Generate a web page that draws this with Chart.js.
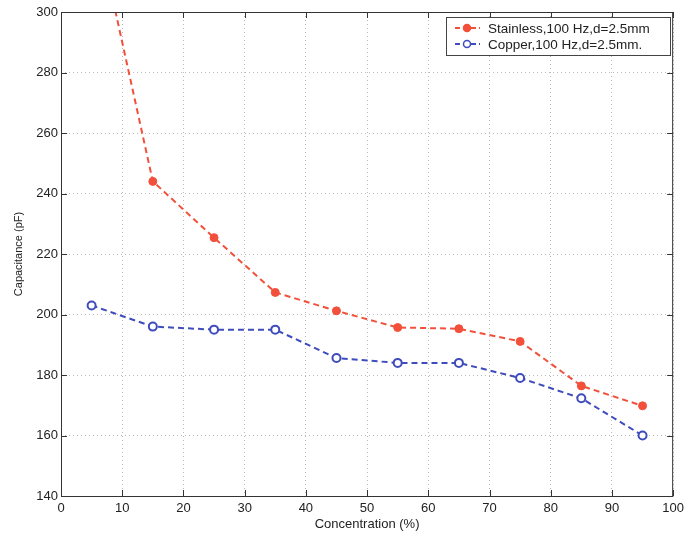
<!DOCTYPE html>
<html>
<head>
<meta charset="utf-8">
<script src="https://cdn.jsdelivr.net/npm/chart.js@4/dist/chart.umd.min.js"></script>
<style>
  html, body { margin: 0; padding: 0; background: #fff; }
  #wrap { width: 689px; height: 537px; }
</style>
</head>
<body>
<div id="wrap"><canvas id="capGraph" width="689" height="537"></canvas></div>
<script>
// concentration values (%)
const concentration = [5, 15, 25, 35, 45, 55, 65, 75, 85, 95];
// capacitance (pF)
const stainless = [336, 244, 225.4, 207.3, 201.2, 195.7, 195.3, 191.1, 176.4, 169.8];
const copper = [203, 196, 195, 195, 185.6, 184, 184, 179, 172.3, 160];
const seriesLabels = ["Stainless,100 Hz,d=2.5mm", "Copper,100 Hz,d=2.5mm."];

const FONT = "'Liberation Sans', Arial, sans-serif";
const RED = "#f2503a";
const BLUE = "#3f4cbc";

function toPoints(ys) {
    return concentration.map((x, i) => ({ x: x, y: ys[i] }));
}

// plot frame plus inward tick marks on all four sides
const framePlugin = {
    id: "frame",
    afterDraw(chart) {
        const { ctx, chartArea: a, scales } = chart;
        ctx.save();
        ctx.strokeStyle = "#333";
        ctx.lineWidth = 1;
        ctx.strokeRect(a.left + 0.5, a.top + 0.5, a.right - a.left - 1, a.bottom - a.top);
        ctx.beginPath();
        scales.x.ticks.forEach(t => {
            const px = Math.round(scales.x.getPixelForValue(t.value)) + 0.5;
            ctx.moveTo(px, a.bottom); ctx.lineTo(px, a.bottom - 6);
            ctx.moveTo(px, a.top); ctx.lineTo(px, a.top + 6);
        });
        scales.y.ticks.forEach(t => {
            const py = Math.round(scales.y.getPixelForValue(t.value)) + 0.5;
            ctx.moveTo(a.left, py); ctx.lineTo(a.left + 6, py);
            ctx.moveTo(a.right, py); ctx.lineTo(a.right - 6, py);
        });
        ctx.stroke();
        ctx.restore();
    }
};

// boxed legend in the top right corner, matlab style
const legendBoxPlugin = {
    id: "legendBox",
    afterDraw(chart) {
        const { ctx } = chart;
        const box = { x: 446, y: 17, w: 224, h: 38 };
        ctx.save();
        ctx.fillStyle = "#fff";
        ctx.fillRect(box.x, box.y, box.w, box.h);
        ctx.strokeStyle = "#444";
        ctx.lineWidth = 1;
        ctx.strokeRect(box.x + 0.5, box.y + 0.5, box.w, box.h);
        ctx.font = "13.5px " + FONT;
        ctx.textBaseline = "middle";
        chart.data.datasets.forEach((ds, i) => {
            const y = box.y + 11 + i * 16;
            ctx.strokeStyle = ds.borderColor;
            ctx.lineWidth = 2;
            ctx.setLineDash([5, 3]);
            ctx.beginPath();
            ctx.moveTo(box.x + 9, y); ctx.lineTo(box.x + 34, y);
            ctx.stroke();
            ctx.setLineDash([]);
            ctx.beginPath();
            ctx.arc(box.x + 21, y, 3.5, 0, Math.PI * 2);
            ctx.fillStyle = ds.pointBackgroundColor;
            ctx.fill();
            ctx.lineWidth = 1.5;
            ctx.stroke();
            ctx.fillStyle = "#222";
            ctx.fillText(ds.label, box.x + 42, y + 1);
        });
        ctx.restore();
    }
};

function build_config() {
    return {
        type: "line",
        data: {
            datasets: [
                {
                    label: seriesLabels[0],
                    data: toPoints(stainless),
                    borderColor: RED,
                    backgroundColor: RED,
                    pointBackgroundColor: RED,
                    pointBorderColor: RED,
                    borderWidth: 2,
                    borderDash: [6, 4],
                    pointRadius: 4,
                    pointBorderWidth: 1,
                },
                {
                    label: seriesLabels[1],
                    data: toPoints(copper),
                    borderColor: BLUE,
                    backgroundColor: BLUE,
                    pointBackgroundColor: "#fff",
                    pointBorderColor: BLUE,
                    borderWidth: 2,
                    borderDash: [6, 4],
                    pointRadius: 4,
                    pointBorderWidth: 2,
                },
            ],
        },
        options: {
            responsive: false,
            animation: false,
            layout: { padding: { left: 0, right: 14, top: 12, bottom: 0 } },
            plugins: {
                legend: { display: false },
                tooltip: { enabled: false },
            },
            scales: {
                x: {
                    type: "linear",
                    min: 0,
                    max: 100,
                    ticks: { stepSize: 10, color: "#222", font: { family: FONT, size: 13 }, padding: 5, maxRotation: 0 },
                    grid: { color: "#bbb", lineWidth: 1, tickLength: 0, drawTicks: false },
                    border: { display: false, dash: [1, 3] },
                    title: { display: true, text: "Concentration (%)", color: "#222", font: { family: FONT, size: 13 }, padding: { top: 2, bottom: 5 } },
                    afterFit(scale) { scale.height = 41; },
                },
                y: {
                    min: 140,
                    max: 300,
                    ticks: { stepSize: 20, color: "#222", font: { family: FONT, size: 13 }, padding: 3 },
                    grid: { color: "#bbb", lineWidth: 1, drawTicks: false },
                    border: { display: false, dash: [1, 3] },
                    title: { display: true, text: "Capacitance (pF)", color: "#222", font: { family: FONT, size: 11 }, padding: { top: 12, bottom: 2 } },
                    afterFit(scale) { scale.width = 61; },
                },
            },
        },
        plugins: [framePlugin, legendBoxPlugin],
    };
}

const capGraph = new Chart("capGraph", build_config());
</script>
</body>
</html>
